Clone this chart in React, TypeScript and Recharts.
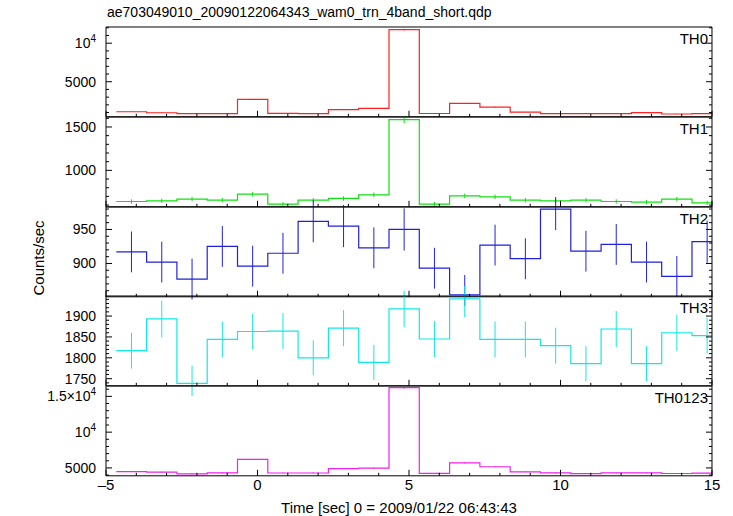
import React from "react";
import { ComposedChart, ErrorBar, Line, Scatter, XAxis, YAxis } from "recharts";

// 1 s bins, centres
const binCenters = [
  -4.16, -3.16, -2.16, -1.16, -0.16, 0.84, 1.84, 2.84, 3.84, 4.84, 5.84, 6.84,
  7.84, 8.84, 9.84, 10.84, 11.84, 12.84, 13.84, 14.84,
];

const th0 = [1105, 975, 870, 870, 2700, 900, 870, 1390, 1540, 11760, 880, 2200, 1700, 1050, 850, 850, 860, 980, 810, 850];
const th0Err = [33, 31, 29, 29, 52, 30, 29, 37, 39, 108, 30, 47, 41, 32, 29, 29, 29, 31, 28, 29];
const th1 = [641, 649, 668, 656, 725, 611, 656, 676, 718, 1584, 611, 706, 695, 656, 649, 656, 641, 634, 668, 626];
const th1Err = [25, 25, 26, 26, 27, 25, 26, 26, 27, 40, 25, 27, 26, 26, 25, 26, 25, 25, 26, 25];
const th2 = [917, 902, 877, 925, 896, 915, 962, 955, 923, 950, 893, 854, 927, 907, 980, 918, 928, 902, 881, 932];
const th2Err = [30, 30, 30, 30, 30, 30, 31, 31, 30, 31, 30, 29, 30, 30, 31, 30, 30, 30, 30, 31];
const th3 = [1817, 1893, 1739, 1844, 1863, 1864, 1800, 1871, 1789, 1917, 1845, 1941, 1844, 1844, 1829, 1786, 1869, 1786, 1860, 1853];
const th3Err = [43, 44, 42, 43, 43, 43, 42, 43, 42, 44, 43, 44, 43, 43, 43, 42, 43, 42, 43, 43];
const th0123 = [4480, 4420, 4155, 4295, 6185, 4290, 4290, 4890, 4970, 16210, 4230, 5700, 5165, 4455, 4310, 4210, 4300, 4300, 4220, 4260];
const th0123Err = [67, 66, 64, 66, 79, 66, 66, 70, 70, 127, 65, 75, 72, 67, 66, 65, 66, 66, 65, 65];

const xDomain: [number, number] = [-5, 15];
const xMajor = [-5, 0, 5, 10, 15];
const xAll = [-5, -4, -3, -2, -1, 0, 1, 2, 3, 4, 5, 6, 7, 8, 9, 10, 11, 12, 13, 14, 15];

const title = "ae703049010_20090122064343_wam0_trn_4band_short.qdp";
const xTitle = "Time [sec] 0 = 2009/01/22 06:43:43";
const yTitle = "Counts/sec";

const W = 733;
const H = 516;
const plotLeft = 106;
const plotRight = 712;
const top0 = 27;
const panelH = 89.8;
const PAD = 10;
const yAxisW = 60;
const xLabelH = 26;
const FONT = '"Liberation Sans", Arial, Helvetica, sans-serif';

function steps(lo: number, hi: number, step: number) {
  const out: number[] = [];
  for (let v = lo; v <= hi + 1e-9; v += step) out.push(Math.round(v * 1000) / 1000);
  return out;
}

type PanelDef = {
  name: string;
  values: number[];
  errors: number[];
  color: string;
  domain: [number, number];
  major: number[];
  minor: number[];
};

const panels: PanelDef[] = [
  { name: "TH0", values: th0, errors: th0Err, color: "#ff2020", domain: [450, 12100], major: [5000, 10000], minor: steps(1000, 12000, 1000) },
  { name: "TH1", values: th1, errors: th1Err, color: "#10e010", domain: [580, 1615], major: [1000, 1500], minor: steps(600, 1600, 100) },
  { name: "TH2", values: th2, errors: th2Err, color: "#2020e0", domain: [851, 983], major: [900, 950], minor: steps(860, 980, 10) },
  { name: "TH3", values: th3, errors: th3Err, color: "#10e8e8", domain: [1733, 1948], major: [1750, 1800, 1850, 1900], minor: steps(1740, 1940, 10) },
  { name: "TH0123", values: th0123, errors: th0123Err, color: "#f020f0", domain: [3900, 16450], major: [5000, 10000, 15000], minor: steps(4000, 16000, 1000) },
];

// inward tick mark, drawn at the position the axis hands over
function TickMark(props: any) {
  const { x, y, payload, side, major } = props;
  const len = major.includes(payload.value) ? 6 : 3;
  let x2 = x;
  let y2 = y;
  if (side === "top") y2 = y + len;
  if (side === "bottom") y2 = y - len;
  if (side === "left") x2 = x + len;
  if (side === "right") x2 = x - len;
  return <line x1={x} y1={y} x2={x2} y2={y2} stroke="#000" strokeWidth={1} />;
}

function YTick(props: any) {
  const { x, y, payload } = props;
  const v = payload.value;
  const common = { x, y, textAnchor: "end" as const, dy: 5, fontSize: 14, fill: "#000" };
  if (v === 10000) {
    return (
      <text {...common}>
        10<tspan dy={-6} fontSize={10}>4</tspan>
      </text>
    );
  }
  if (v === 15000) {
    return (
      <text {...common}>
        1.5×10<tspan dy={-6} fontSize={10}>4</tspan>
      </text>
    );
  }
  return <text {...common}>{String(v)}</text>;
}

function XTick(props: any) {
  const { x, y, payload } = props;
  const v = payload.value;
  return (
    <text x={x} y={y} dy={11} textAnchor="middle" fontSize={15} fill="#000">
      {v < 0 ? "\u2013" + Math.abs(v) : String(v)}
    </text>
  );
}

function Panel({ def, index, last }: { def: PanelDef; index: number; last: boolean }) {
  const top = top0 + index * panelH;
  const stepData = def.values.map((v, i) => ({ x: binCenters[i] - 0.5, v }));
  stepData.push({
    x: Math.min(binCenters[binCenters.length - 1] + 0.5, xDomain[1]),
    v: def.values[def.values.length - 1],
  });
  const pts = def.values.map((v, i) => ({ x: binCenters[i], v, e: def.errors[i] }));
  const h = PAD + panelH + PAD + (last ? xLabelH : 0);
  const yAll = [...def.minor, ...def.major.filter((m) => !def.minor.includes(m))];
  const ax = { stroke: "#000", allowDataOverflow: true, type: "number" as const, interval: 0 as const };
  const mk = { tickLine: false, tickSize: 0, tickMargin: 0 };
  const seriesX = last ? "xl" : "xb";
  return (
    <div style={{ position: "absolute", left: 0, top: top - PAD }}>
      <ComposedChart
        width={W}
        height={h}
        margin={{ top: PAD, bottom: PAD, left: plotLeft - yAxisW, right: W - plotRight }}
      >
        <XAxis {...ax} {...mk} xAxisId="xb" dataKey="x" orientation="bottom" mirror height={1} domain={xDomain} ticks={xAll} tick={<TickMark side="bottom" major={xMajor} />} />
        <XAxis {...ax} {...mk} xAxisId="xt" orientation="top" mirror height={1} domain={xDomain} ticks={xAll} tick={<TickMark side="top" major={xMajor} />} />
        {last && (
          <XAxis {...ax} xAxisId="xl" dataKey="x" orientation="bottom" height={xLabelH} domain={xDomain} ticks={xMajor} tick={<XTick />} tickLine={false} axisLine={false} tickSize={0} tickMargin={3} />
        )}
        <YAxis {...ax} yAxisId="y" orientation="left" width={yAxisW} domain={def.domain} ticks={def.major} tick={<YTick />} tickLine={false} tickSize={0} tickMargin={10} />
        <YAxis {...ax} {...mk} yAxisId="yl" orientation="left" mirror width={1} domain={def.domain} ticks={yAll} tick={<TickMark side="left" major={def.major} />} axisLine={false} />
        <YAxis {...ax} {...mk} yAxisId="yr" orientation="right" mirror width={1} domain={def.domain} ticks={yAll} tick={<TickMark side="right" major={def.major} />} />
        <Line
          xAxisId={seriesX}
          yAxisId="y"
          data={stepData}
          dataKey="v"
          type="stepAfter"
          stroke={def.color}
          strokeWidth={1.2}
          dot={false}
          isAnimationActive={false}
        />
        <Scatter
          xAxisId={seriesX}
          yAxisId="y"
          data={pts}
          dataKey="v"
          shape={() => <g />}
          isAnimationActive={false}
        >
          <ErrorBar dataKey="e" direction="y" width={0} stroke={def.color} strokeWidth={1} isAnimationActive={false} />
        </Scatter>
      </ComposedChart>
      <div
        style={{
          position: "absolute",
          right: W - plotRight + 4,
          top: PAD + 3,
          fontSize: 15,
          color: "#000",
          fontFamily: FONT,
        }}
      >
        {def.name}
      </div>
    </div>
  );
}

export default function App() {
  return (
    <div
      style={{
        position: "absolute",
        left: 0,
        top: 0,
        width: W,
        height: H,
        background: "#fff",
        fontFamily: FONT,
        overflow: "hidden",
      }}
    >
      <div style={{ position: "absolute", left: 107, top: 4, fontSize: 14, color: "#000", whiteSpace: "nowrap" }}>
        {title}
      </div>
      {panels.map((p, i) => (
        <Panel key={p.name} def={p} index={i} last={i === panels.length - 1} />
      ))}
      <div
        style={{
          position: "absolute",
          left: 38,
          top: 258,
          transform: "translate(-50%, -50%) rotate(-90deg)",
          fontSize: 15,
          color: "#000",
          whiteSpace: "nowrap",
        }}
      >
        {yTitle}
      </div>
      <div
        style={{
          position: "absolute",
          left: (plotLeft + plotRight) / 2 - 10,
          top: 499,
          transform: "translateX(-50%)",
          fontSize: 15,
          color: "#000",
          whiteSpace: "nowrap",
        }}
      >
        {xTitle}
      </div>
    </div>
  );
}
